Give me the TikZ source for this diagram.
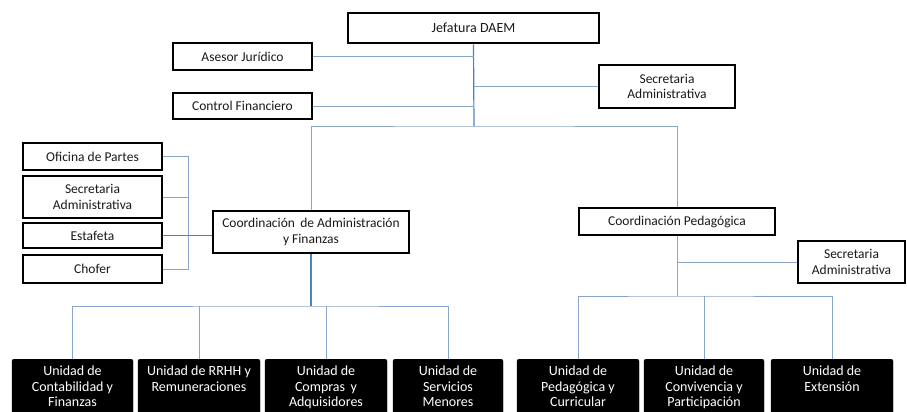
\documentclass[tikz,border=0pt]{standalone}
\usepackage{fontspec}
\setmainfont{Carlito}
\definecolor{linelight}{RGB}{137,165,201}
\definecolor{linemain}{RGB}{79,129,189}
\definecolor{txt}{RGB}{25,25,25}
\tikzset{
  wbox/.style={draw=black, line width=2.8pt, fill=white, inner sep=0pt, align=center,
    text=txt, font=\fontsize{13.5}{15.5}\selectfont},
  bbox/.style={draw=black, fill=black, rounded corners=2pt, inner xsep=0pt, inner ysep=7pt,
    anchor=north, text=white, font=\fontsize{14}{15.5}\selectfont},
  conn/.style={draw=linelight, line width=1pt},
  connmain/.style={draw=linemain, line width=1.2pt}
}
\newcommand{\btext}[2]{\parbox[t][43pt][t]{#1pt}{\centering #2}}
\begin{document}
\begin{tikzpicture}[x=1pt,y=-1pt]
\useasboundingbox (0,0) rectangle (907,412);
% coordinates
\coordinate (hub) at (474,126);
\coordinate (bus) at (188,236);
\coordinate (hubA) at (311,306);
\coordinate (hubP) at (677,296);
% boxes
\node[wbox, minimum width=251, minimum height=30, font=\fontsize{14}{17}\selectfont] (jef) at (473.5,28) {Jefatura DAEM};
\node[wbox, minimum width=139, minimum height=27] (ases) at (242.5,56.5) {Asesor Jurídico};
\node[wbox, minimum width=139, minimum height=26] (ctrl) at (242.5,106) {Control Financiero};
\node[wbox, minimum width=136, minimum height=43] (sect) at (667,86.5) {Secretaria\\Administrativa};
\node[wbox, minimum width=139, minimum height=27] (ofi) at (92.5,156.5) {Oficina de Partes};
\node[wbox, minimum width=139, minimum height=42] (secl) at (92.5,197) {Secretaria\\Administrativa};
\node[wbox, minimum width=139, minimum height=25] (esta) at (92.5,235.5) {Estafeta};
\node[wbox, minimum width=139, minimum height=28] (chof) at (92.5,269) {Chofer};
\node[wbox, minimum width=196, minimum height=42] (cadm) at (311,232) {Coordinación\, de Administración\\y Finanzas};
\node[wbox, minimum width=196, minimum height=27] (cped) at (677,221.5) {Coordinación Pedagógica};
\node[wbox, minimum width=107, minimum height=42] (secr) at (851.5,262) {Secretaria\\Administrativa};
% bottom units
\node[bbox] (b1) at (72.5,359) {\btext{121}{Unidad de\\Contabilidad y\\Finanzas}};
\node[bbox] (b2) at (199,359) {\btext{122}{Unidad de RRHH y\\Remuneraciones}};
\node[bbox] (b3) at (326,359) {\btext{122}{Unidad de\\Compras\, y\\Adquisidores}};
\node[bbox] (b4) at (448,359) {\btext{110}{Unidad de\\Servicios\\Menores}};
\node[bbox] (b5) at (578,359) {\btext{122}{Unidad de\\Pedagógica y\\Curricular}};
\node[bbox] (b6) at (704,359) {\btext{120}{Unidad de\\Convivencia y\\Participación}};
\node[bbox] (b7) at (832,359) {\btext{122}{Unidad de\\Extensión}};
% connectors
\draw[connmain] (jef.south) -- (hub);
\draw[conn] (ases.east) -- (ases.east -| hub);
\draw[conn] (ctrl.east) -- (ctrl.east -| hub);
\draw[conn] (sect.west) -- (sect.west -| hub);
\draw[conn] (cadm.north) |- (hub) -| (cped.north);
\draw[conn] (ofi.east) -| (bus);
\draw[conn] (chof.east) -| (bus);
\draw[conn] (secl.east) -- (secl.east -| bus);
\draw[connmain] (esta.east) -- (esta.east -| cadm.west);
\draw[connmain] (cadm.south) -- (hubA);
\draw[conn] (b1.north) |- (hubA) -| (b4.north);
\draw[conn] (b2.north) -- (b2.north |- hubA);
\draw[conn] (b3.north) -- (b3.north |- hubA);
\draw[conn] (cped.south) -- (hubP);
\draw[conn] (secr.west) -- (secr.west -| hubP);
\draw[conn] (b5.north) |- (hubP) -| (b7.north);
\draw[conn] (b6.north) -- (b6.north |- hubP);
\end{tikzpicture}
\end{document}
